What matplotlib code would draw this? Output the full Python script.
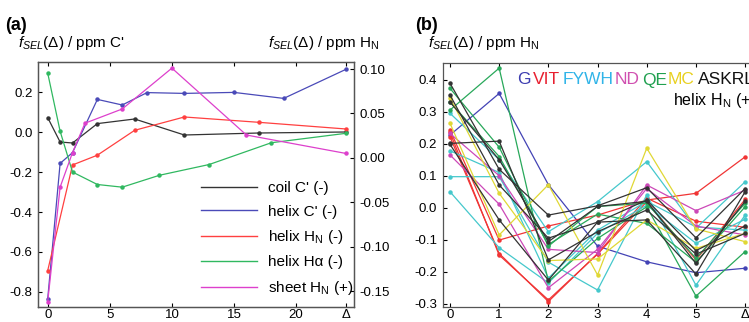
import matplotlib
matplotlib.use("Agg")
import matplotlib.pyplot as plt
from matplotlib.lines import Line2D

plt.rcParams['font.family'] = ['Liberation Sans', 'DejaVu Sans']
plt.rcParams['mathtext.fontset'] = 'custom'
plt.rcParams['mathtext.rm'] = 'Liberation Sans'
plt.rcParams['mathtext.it'] = 'Liberation Sans:italic'
plt.rcParams['mathtext.bf'] = 'Liberation Sans:bold'

# --------------------------------
# Panel (a) data
# --------------------------------
coil_x = [0, 1, 2, 4, 7, 11, 17, 24]
coil_y = [0.072, -0.05, -0.055, 0.042, 0.065, -0.015, -0.005, 0.0]

helix_c_x = [0, 1, 2, 4, 6, 8, 11, 15, 19, 24]
helix_c_y = [-0.835, -0.157, -0.103, 0.163, 0.135, 0.197, 0.193, 0.198, 0.168, 0.313]

helix_hn_x = [0, 2, 4, 7, 11, 17, 24]
helix_hn_y = [-0.127, -0.008, 0.003, 0.031, 0.046, 0.040, 0.0325]

helix_ha_x = [0, 1, 2, 4, 6, 9, 13, 18, 24]
helix_ha_y = [0.0955, 0.030, -0.016, -0.030, -0.033, -0.0196, -0.0075, 0.017, 0.0276]

sheet_hn_x = [0, 1, 2, 3, 6, 10, 16, 24]
sheet_hn_y = [-0.162, -0.033, 0.006, 0.039, 0.055, 0.101, 0.0257, 0.005]

# --------------------------------
# Panel (b) data, one list per residue trace, x = 0..5 and Delta
# --------------------------------
delta_x = [0, 1, 2, 3, 4, 5, 6]

g_traces = [
    [0.227, 0.357, 0.072, -0.12, -0.169, -0.203, -0.189],
]
vit_traces = [
    [0.243, -0.101, -0.057, -0.023, 0.024, 0.045, 0.159],
    [0.235, -0.148, -0.288, -0.145, 0.019, -0.163, 0.026],
    [0.222, -0.143, -0.293, -0.143, 0.030, -0.042, -0.061],
]
fywh_traces = [
    [0.295, 0.15, -0.075, 0.019, 0.144, -0.064, 0.081],
    [0.097, 0.097, -0.17, -0.257, 0.040, -0.242, -0.023],
    [0.05, -0.125, -0.235, -0.08, 0.008, -0.111, -0.036],
    [0.178, 0.11, -0.22, -0.07, 0.02, -0.06, -0.07],
]
nd_traces = [
    [0.232, 0.10, -0.13, -0.14, 0.071, -0.009, 0.055],
    [0.165, 0.011, -0.25, -0.13, 0.06, -0.057, -0.085],
]
qe_traces = [
    [0.305, 0.436, -0.23, -0.096, 0.003, -0.276, -0.137],
    [0.373, 0.189, -0.12, 0.004, 0.014, -0.158, 0.014],
    [0.33, 0.16, -0.115, -0.02, -0.049, -0.17, 0.003],
]
mc_traces = [
    [0.264, -0.085, 0.072, -0.21, 0.186, -0.066, -0.106],
    [0.344, 0.045, -0.165, -0.16, -0.038, -0.127, -0.08],
]
askrl_traces = [
    [0.389, 0.12, -0.023, 0.006, 0.0625, -0.094, 0.06],
    [0.352, 0.071, -0.095, -0.045, 0.024, -0.134, -0.057],
    [0.201, 0.208, -0.163, -0.075, -0.007, -0.145, -0.08],
    [0.198, -0.038, -0.226, -0.045, -0.038, -0.207, 0.05],
    [0.33, 0.15, -0.106, 0.004, 0.02, -0.174, 0.02],
]

group_names = ["G", "VIT", "FYWH", "ND", "QE", "MC", "ASKRL"]
group_traces = [g_traces, vit_traces, fywh_traces, nd_traces, qe_traces, mc_traces, askrl_traces]
line_colors = ["#4343b5", "#f03535", "#45c8cc", "#cc48b8", "#28a85a", "#e0d835", "#333333"]
text_colors = ["#3c3cb0", "#e82030", "#30b4e8", "#d050b0", "#20a050", "#e8d020", "#111111"]

W, H = 749, 322
fig = plt.figure(figsize=(W / 100, H / 100), dpi=100)


def fx(px):
    return px / W


def fy(py):
    return 1 - py / H


tick_fs = 9.5
mk = dict(marker='o', markersize=2.2, linewidth=0.9)

# --------------------------------
# Panel (a)
# --------------------------------
ax = fig.add_axes([fx(38), fy(307), fx(354 - 38), (307 - 62) / H])
ax2 = ax.twinx()

ax.plot(coil_x, coil_y, color="#333333", **mk)
ax.plot(helix_c_x, helix_c_y, color="#4a4ab8", **mk)
ax2.plot(helix_hn_x, helix_hn_y, color="#ff4040", **mk)
ax2.plot(helix_ha_x, helix_ha_y, color="#30b860", **mk)
ax2.plot(sheet_hn_x, sheet_hn_y, color="#dd40cc", **mk)

ax.set_xlim(-0.78, 24.66)
ax.set_ylim(-0.875, 0.35)
ax2.set_ylim(-0.1679, 0.1079)
ax.set_xticks([0, 5, 10, 15, 20, 24])
ax.set_xticklabels(["0", "5", "10", "15", "20", "Δ"])
ax.set_yticks([0.2, 0.0, -0.2, -0.4, -0.6, -0.8])
ax.set_yticklabels(["0.2", "0.0", "-0.2", "-0.4", "-0.6", "-0.8"])
ax2.set_yticks([0.10, 0.05, 0.00, -0.05, -0.10, -0.15])
ax2.set_yticklabels(["0.10", "0.05", "0.00", "-0.05", "-0.10", "-0.15"])
ax.tick_params(axis='y', direction='in', labelsize=tick_fs, length=3, pad=4)
ax.tick_params(axis='x', direction='in', labelsize=tick_fs, top=True, length=3, pad=1.5)
ax2.tick_params(direction='in', labelsize=tick_fs, length=3, pad=4)
for a in (ax, ax2):
    for s in a.spines.values():
        s.set_color("#555555")
        s.set_linewidth(0.9)

handles = [
    Line2D([], [], color="#333333", lw=1.0),
    Line2D([], [], color="#4a4ab8", lw=1.0),
    Line2D([], [], color="#ff4040", lw=1.0),
    Line2D([], [], color="#30b860", lw=1.0),
    Line2D([], [], color="#dd40cc", lw=1.0),
]
labels = ["coil C' (-)", "helix C' (-)", r"helix H$_\mathregular{N}$ (-)",
          "helix Hα (-)", r"sheet H$_\mathregular{N}$ (+)"]
ax.legend(handles, labels, loc='upper left', bbox_to_anchor=(0.515, 0.514),
          frameon=False, fontsize=11, handlelength=3.7, handletextpad=0.7,
          labelspacing=0.62, borderpad=0, borderaxespad=0)

fig.text(fx(5), fy(25), "(a)", fontsize=13, fontweight='bold', va='center')
fig.text(fx(18), fy(43), r"$f_{SEL}$(Δ) / ppm C'", fontsize=11, va='center')
fig.text(fx(380), fy(43), r"$f_{SEL}$(Δ) / ppm H$_\mathregular{N}$", fontsize=11,
         va='center', ha='right')

# --------------------------------
# Panel (b)
# --------------------------------
bx = fig.add_axes([fx(442.7), fy(307.3), fx(754 - 442.7), (307.3 - 62.7) / H])
for traces, col in zip(group_traces, line_colors):
    for tr in traces:
        bx.plot(delta_x, tr, color=col, **mk)

bx.set_xlim(-0.148, 6.18)
bx.set_ylim(-0.311, 0.453)
bx.set_xticks([0, 1, 2, 3, 4, 5, 6])
bx.set_xticklabels(["0", "1", "2", "3", "4", "5", "Δ"])
bx.set_yticks([0.4, 0.3, 0.2, 0.1, 0.0, -0.1, -0.2, -0.3])
bx.set_yticklabels(["0.4", "0.3", "0.2", "0.1", "0.0", "-0.1", "-0.2", "-0.3"])
bx.tick_params(axis='y', direction='in', labelsize=tick_fs, length=3, pad=4)
bx.tick_params(axis='x', direction='in', labelsize=tick_fs, top=True, length=3, pad=1.5)
for s in bx.spines.values():
    s.set_color("#555555")
    s.set_linewidth(0.9)

fig.text(fx(415), fy(25), "(b)", fontsize=13, fontweight='bold', va='center')
fig.text(fx(428), fy(43), r"$f_{SEL}$(Δ) / ppm H$_\mathregular{N}$", fontsize=11, va='center')

word_x = [517, 533, 563, 615, 642, 668, 698]
for name, col, px in zip(group_names, text_colors, word_x):
    fig.text(fx(px), fy(80), name, color=col, fontsize=12.5, va='center')
fig.text(fx(673), fy(101), r"helix H$_\mathregular{N}$ (+)", fontsize=11.5, va='center')

fig.savefig("out.png", dpi=100)
